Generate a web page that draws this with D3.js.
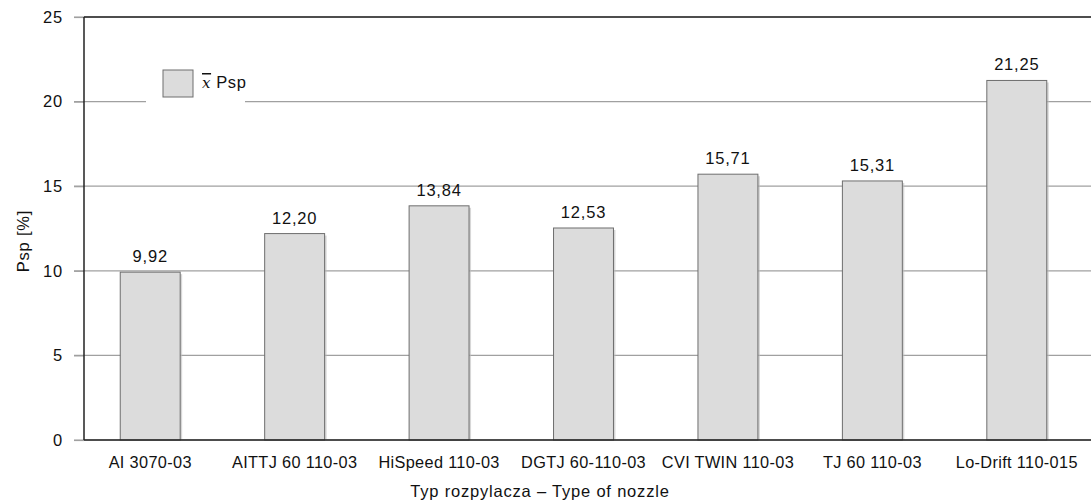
<!DOCTYPE html>
<html><head><meta charset="utf-8">
<script src="https://cdn.jsdelivr.net/npm/d3@7"></script>
<style>
body{margin:0;background:#fff;}
text{font-family:"Liberation Sans",Arial,sans-serif;fill:#111;}
</style></head>
<body><svg id="c" width="1091" height="502"></svg>
<script>
const categories = ["AI 3070-03","AITTJ 60 110-03","HiSpeed 110-03","DGTJ 60-110-03","CVI TWIN 110-03","TJ 60 110-03","Lo-Drift 110-015"];
const values = [9.92,12.20,13.84,12.53,15.71,15.31,21.25];
const valueLabels = ["9,92","12,20","13,84","12,53","15,71","15,31","21,25"];
const yTicks = [0,5,10,15,20,25];

const FONT = '"Liberation Sans",Arial,sans-serif';
const svg = d3.select("#c");
const mLeft = 84, mTop = 17, mBottom = 440;
const x = d3.scaleBand().domain(categories).range([78, 1089]).padding(0);
const y = d3.scaleLinear().domain([0,25]).range([mBottom, mTop]);
const bw = x.bandwidth()*0.415;

// gridlines
const grid = svg.append("g");
yTicks.forEach(t=>{
  grid.append("line").attr("x1",74).attr("x2",1091).attr("y1",y(t)).attr("y2",y(t))
    .attr("stroke", "#a0a0a0").attr("stroke-width",1.2);
});
// legend background gap in gridline
svg.append("rect").attr("x",146).attr("y",y(20)-4).attr("width",99).attr("height",8).attr("fill","#fff");

// y axis ticks labels
const ya = svg.append("g").attr("transform",`translate(${mLeft},0)`)
  .call(d3.axisLeft(y).tickValues(yTicks).tickSize(10).tickPadding(11).tickFormat(d3.format("d")));
ya.select(".domain").remove();
ya.selectAll(".tick line").attr("stroke","#a0a0a0").attr("stroke-width",1.2);
ya.selectAll(".tick text").attr("font-size",16.5).attr("letter-spacing","0.8px").attr("fill","#111").style("font-family",FONT);

// bars with shadow
const bars = svg.append("g");
categories.forEach((c,i)=>{
  const cx = x(c)+x.bandwidth()/2;
  bars.append("rect").attr("x",cx-bw/2+2).attr("y",y(values[i])+2).attr("width",bw).attr("height",mBottom-y(values[i])-2)
    .attr("fill","#bdbdbd").attr("opacity",0.6);
  bars.append("rect").attr("x",cx-bw/2).attr("y",y(values[i])).attr("width",bw).attr("height",mBottom-y(values[i]))
    .attr("fill","#dcdcdc").attr("stroke","#6e6e6e").attr("stroke-width",1);
  svg.append("text").attr("x",cx).attr("y",y(values[i])-10).attr("text-anchor","middle")
    .attr("font-size",16.5).attr("letter-spacing","0.8px").text(valueLabels[i]);
});

// frame: left, top, bottom
svg.append("line").attr("x1",mLeft).attr("x2",mLeft).attr("y1",mTop).attr("y2",mBottom).attr("stroke","#222").attr("stroke-width",1.5);
svg.append("line").attr("x1",mLeft).attr("x2",1091).attr("y1",mTop).attr("y2",mTop).attr("stroke","#222").attr("stroke-width",1.5);
svg.append("line").attr("x1",mLeft).attr("x2",1091).attr("y1",mBottom).attr("y2",mBottom).attr("stroke","#222").attr("stroke-width",1.5);

// x axis labels
const xa = svg.append("g").attr("transform",`translate(0,${mBottom})`)
  .call(d3.axisBottom(x).tickSize(0).tickPadding(16));
xa.select(".domain").remove();
xa.selectAll(".tick text").attr("font-size",16.3).attr("letter-spacing","0.35px").attr("fill","#111").style("font-family",FONT);

// axis titles
svg.append("text").attr("x",540).attr("y",497).attr("text-anchor","middle").attr("font-size",16.5).attr("letter-spacing","0.8px")
  .text("Typ rozpylacza – Type of nozzle");
svg.append("text").attr("transform","translate(28.5,241) rotate(-90)").attr("text-anchor","middle").attr("font-size",16.5).attr("letter-spacing","0.8px")
  .text("Psp [%]");

// legend
svg.append("rect").attr("x",163).attr("y",70).attr("width",30).attr("height",27).attr("fill","#dcdcdc").attr("stroke","#6e6e6e");
const lt = svg.append("text").attr("x",202).attr("y",88).attr("font-size",16.5).attr("letter-spacing","0.6px");
lt.append("tspan").attr("font-family","'DejaVu Serif','Liberation Serif',serif").attr("font-style","italic").attr("text-decoration","overline").attr("font-size",15).text("x");
lt.append("tspan").text(" Psp");
</script></body></html>
